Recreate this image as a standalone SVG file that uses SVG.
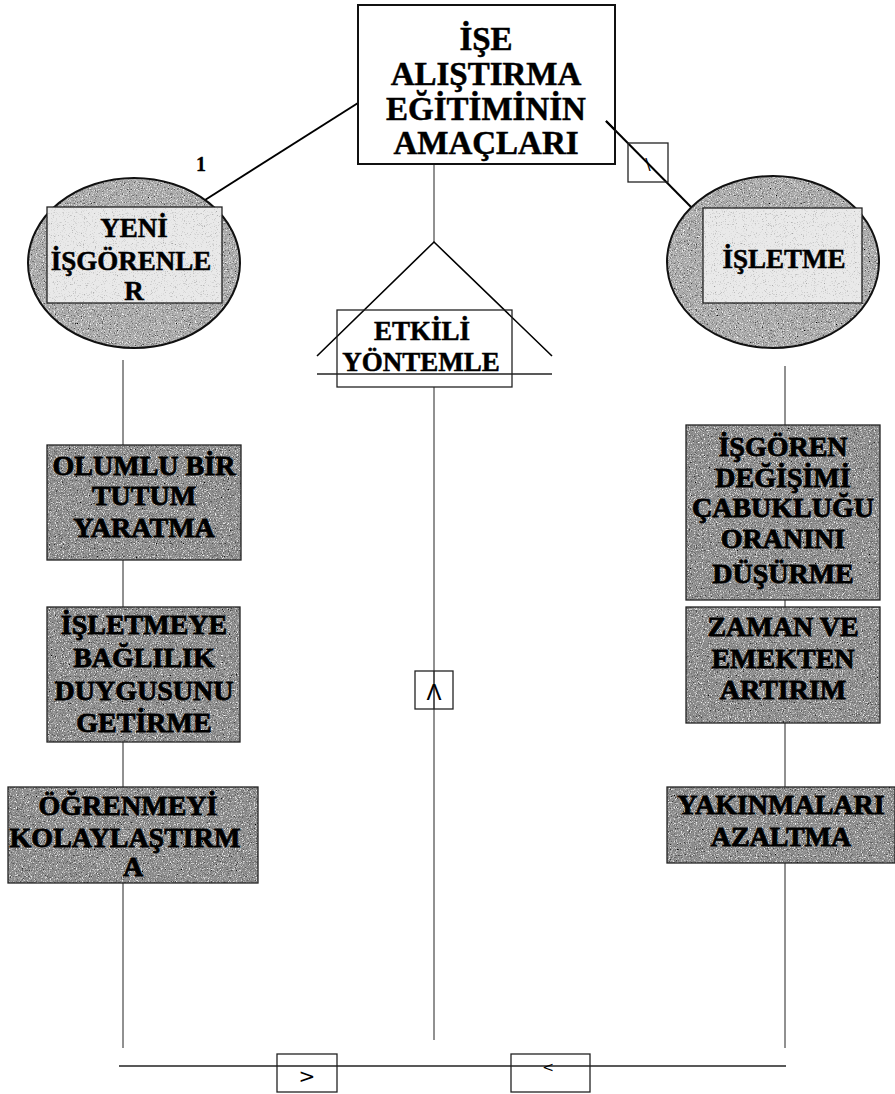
<svg xmlns="http://www.w3.org/2000/svg" width="895" height="1094" viewBox="0 0 895 1094">
<style>
  .t { font-family: "Liberation Serif", "Times New Roman", serif; font-weight: bold; text-anchor: middle; fill: #000; stroke: #000; stroke-width: 0.5; }
  .big { font-size: 33px; }
  .mid { font-size: 27px; }
  .dk { font-size: 28px; stroke-width: 0.8; }
  .thin { stroke: #222; stroke-width: 1; fill: none; }
  .thick { stroke: #000; stroke-width: 2; fill: none; }
  .edge { fill: none; stroke: #111; stroke-width: 2; }
  .edge1 { fill: none; stroke: #222; stroke-width: 1.3; }
  .sym { font-family: "DejaVu Sans", sans-serif; font-size: 22px; text-anchor: middle; fill: #000; }
</style>
<defs>
  <filter id="grain" x="0" y="0" width="100%" height="100%">
    <feTurbulence type="fractalNoise" baseFrequency="0.85" numOctaves="2" seed="4" result="t"/>
    <feColorMatrix in="t" type="matrix" values="0 0 0 0 1  0 0 0 0 1  0 0 0 0 1  -3.2 0 0 0 1.5" result="w"/>
    <feColorMatrix in="t" type="matrix" values="0 0 0 0 0  0 0 0 0 0  0 0 0 0 0  0 3.2 0 0 -1.7" result="b"/>
    <feComposite in="w" in2="SourceGraphic" operator="in" result="w2"/>
    <feComposite in="b" in2="SourceGraphic" operator="in" result="b2"/>
    <feMerge><feMergeNode in="SourceGraphic"/><feMergeNode in="w2"/><feMergeNode in="b2"/></feMerge>
  </filter>
  <filter id="grainLight" x="0" y="0" width="100%" height="100%">
    <feTurbulence type="fractalNoise" baseFrequency="0.9" numOctaves="2" seed="7" result="t"/>
    <feColorMatrix in="t" type="matrix" values="0 0 0 0 0.3  0 0 0 0 0.3  0 0 0 0 0.3  0 3 0 0 -1.75" result="b"/>
    <feComposite in="b" in2="SourceGraphic" operator="in" result="b2"/>
    <feMerge><feMergeNode in="SourceGraphic"/><feMergeNode in="b2"/></feMerge>
  </filter>
</defs>
<rect width="895" height="1094" fill="#fff"/>

<g id="connectors">
  <line class="thick" x1="358" y1="103" x2="205" y2="200"/>
  <line class="thick" x1="606" y1="121" x2="693" y2="209"/>
  <line class="thin" x1="434" y1="164" x2="434" y2="242"/>
  <polyline class="thick" points="317,356 434,242 552,356" style="stroke-width:1.6"/>
  <line class="thin" x1="317" y1="374" x2="552" y2="374" style="stroke-width:1.3"/>
  <line class="thin" x1="434" y1="387" x2="434" y2="1040"/>
  <line class="thin" x1="123" y1="360" x2="123" y2="1048"/>
  <line class="thin" x1="785" y1="366" x2="785" y2="1048"/>
  <line class="thin" x1="119" y1="1066" x2="786" y2="1066" style="stroke-width:1.3"/>
</g>

<g id="n-top">
  <rect x="358" y="5" width="257" height="159" fill="#fff" class="edge"/>
  <line class="thick" x1="606" y1="121" x2="615" y2="130"/>
  <text class="t big" x="486" y="50">İŞE</text>
  <text class="t big" x="486" y="85">ALIŞTIRMA</text>
  <text class="t big" x="486" y="120">EĞİTİMİNİN</text>
  <text class="t big" x="486" y="154">AMAÇLARI</text>
</g>

<g id="n-label1">
  <text class="t" x="201" y="171" style="font-size:20px;stroke-width:0.3">1</text>
</g>

<g id="n-yeni">
  <ellipse cx="134" cy="263" rx="106" ry="85" fill="#acacac" filter="url(#grain)"/>
  <ellipse cx="134" cy="263" rx="106" ry="85" class="edge"/>
  <rect x="47" y="207" width="175" height="96" fill="#e9e9e9" filter="url(#grainLight)"/>
  <rect x="47" y="207" width="175" height="96" class="edge1"/>
  <text class="t mid" x="134" y="237">YENİ</text>
  <text class="t mid" x="131" y="270">İŞGÖRENLE</text>
  <text class="t mid" x="134" y="300">R</text>
</g>

<g id="n-isletme">
  <ellipse cx="773" cy="262" rx="106" ry="86" fill="#acacac" filter="url(#grain)"/>
  <ellipse cx="773" cy="262" rx="106" ry="86" class="edge"/>
  <rect x="703" y="208" width="159" height="95" fill="#e9e9e9" filter="url(#grainLight)"/>
  <rect x="703" y="208" width="159" height="95" class="edge1"/>
  <text class="t mid" x="784" y="268">İŞLETME</text>
</g>

<g id="n-etkili">
  <rect x="337" y="310" width="175" height="77" fill="#fff" class="edge1"/>
  <text class="t mid" x="422" y="340">ETKİLİ</text>
  <text class="t mid" x="421" y="371">YÖNTEMLE</text>
</g>

<g id="n-slash">
  <rect x="628" y="143" width="40" height="39" fill="none" class="edge1"/>
  <text class="sym" x="648" y="170" style="font-size:16px">\</text>
</g>

<g id="n-lambda">
  <rect x="415" y="671" width="38" height="38" fill="#fff" class="edge1"/>
  <line class="thin" x1="434" y1="671" x2="434" y2="709"/>
  <text class="sym" x="434" y="700" style="font-size:22px">Λ</text>
</g>

<g id="n-olumlu">
  <rect x="47" y="445" width="194" height="115" fill="#8e8e8e" filter="url(#grain)"/>
  <rect x="47" y="445" width="194" height="115" class="edge1"/>
  <text class="t dk" x="144" y="475">OLUMLU BİR</text>
  <text class="t dk" x="144" y="505">TUTUM</text>
  <text class="t dk" x="144" y="537">YARATMA</text>
</g>

<g id="n-baglilik">
  <rect x="47" y="607" width="193" height="135" fill="#8e8e8e" filter="url(#grain)"/>
  <rect x="47" y="607" width="193" height="135" class="edge1"/>
  <text class="t dk" x="144" y="634">İŞLETMEYE</text>
  <text class="t dk" x="144" y="667">BAĞLILIK</text>
  <text class="t dk" x="144" y="700">DUYGUSUNU</text>
  <text class="t dk" x="144" y="732">GETİRME</text>
</g>

<g id="n-ogrenme">
  <rect x="8" y="787" width="250" height="96" fill="#8e8e8e" filter="url(#grain)"/>
  <rect x="8" y="787" width="250" height="96" class="edge1"/>
  <text class="t dk" x="128" y="815">ÖĞRENMEYİ</text>
  <text class="t dk" x="125" y="847">KOLAYLAŞTIRM</text>
  <text class="t dk" x="133" y="876">A</text>
</g>

<g id="n-isgoren">
  <rect x="686" y="425" width="194" height="175" fill="#8e8e8e" filter="url(#grain)"/>
  <rect x="686" y="425" width="194" height="175" class="edge1"/>
  <text class="t dk" x="783" y="456">İŞGÖREN</text>
  <text class="t dk" x="783" y="487">DEĞİŞİMİ</text>
  <text class="t dk" x="783" y="517">ÇABUKLUĞU</text>
  <text class="t dk" x="783" y="548">ORANINI</text>
  <text class="t dk" x="783" y="583">DÜŞÜRME</text>
</g>

<g id="n-zaman">
  <rect x="686" y="607" width="194" height="116" fill="#8e8e8e" filter="url(#grain)"/>
  <rect x="686" y="607" width="194" height="116" class="edge1"/>
  <text class="t dk" x="783" y="636">ZAMAN VE</text>
  <text class="t dk" x="783" y="668">EMEKTEN</text>
  <text class="t dk" x="783" y="699">ARTIRIM</text>
</g>

<g id="n-yakinma">
  <rect x="667" y="787" width="228" height="76" fill="#8e8e8e" filter="url(#grain)"/>
  <rect x="667" y="787" width="228" height="76" class="edge1"/>
  <text class="t dk" x="781" y="814">YAKINMALARI</text>
  <text class="t dk" x="781" y="846">AZALTMA</text>
</g>

<g id="n-gt">
  <rect x="277" y="1054" width="60" height="38" fill="none" class="edge1"/>
  <text class="sym" x="307" y="1083" style="font-size:20px">&gt;</text>
</g>

<g id="n-lt">
  <rect x="511" y="1054" width="79" height="38" fill="none" class="edge1"/>
  <text class="sym" x="548" y="1072" style="font-size:14px">&lt;</text>
</g>
</svg>
